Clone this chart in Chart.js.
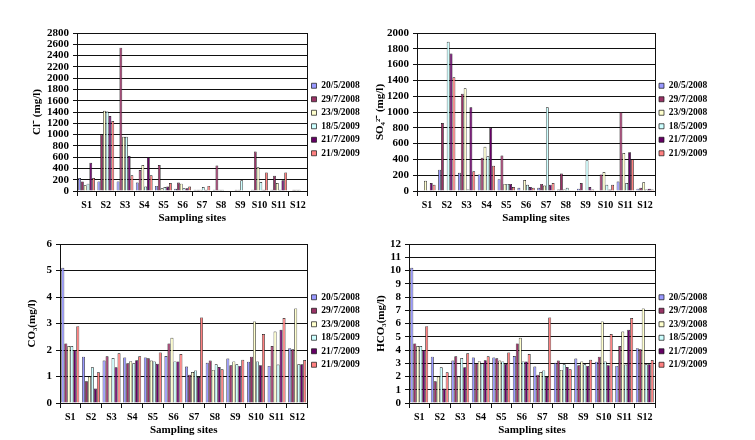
<!DOCTYPE html>
<html>
<head>
    <title>Sampling sites - Cl, SO4, CO3, HCO3</title>
    <script src="https://cdn.jsdelivr.net/npm/chart.js"></script>
    <style>
        body {
            margin: 0;
            background-color: #fff;
            width: 755px;
            height: 440px;
            position: relative;
            overflow: hidden;
        }
        canvas {
            position: absolute;
        }
        #clChart { left: 0; top: 0; }
        #so4Chart { left: 370px; top: 0; }
        #co3Chart { left: 0; top: 228px; }
        #hco3Chart { left: 370px; top: 228px; }
    </style>
</head>
<body>
    <canvas id="clChart" width="370" height="228"></canvas>
    <canvas id="so4Chart" width="385" height="228"></canvas>
    <canvas id="co3Chart" width="370" height="212"></canvas>
    <canvas id="hco3Chart" width="385" height="212"></canvas>

    <script>
        var sites = ['S1', 'S2', 'S3', 'S4', 'S5', 'S6', 'S7', 'S8', 'S9', 'S10', 'S11', 'S12'];
        var dates = ['20/5/2008', '29/7/2008', '23/9/2008', '18/5/2009', '21/7/2009', '21/9/2009'];
        var colors = ['#9999FF', '#993366', '#FFFFCC', '#CCFFFF', '#660066', '#FF8080'];

        // Cl- (mg/l), one row per sampling date
        var clValues = [
            [230, 170, 170, 150, 90, 40, 20, 20, 10, 20, 20, 10],
            [170, 1000, 2540, 370, 460, 150, 20, 450, 20, 700, 270, 20],
            [100, 1420, 960, 460, 50, 130, 20, 20, 20, 420, 140, 20],
            [130, 1410, 960, 80, 70, 50, 70, 20, 190, 160, 20, 20],
            [500, 1330, 620, 600, 80, 50, 20, 10, 10, 20, 190, 10],
            [230, 1240, 280, 280, 140, 80, 90, 10, 10, 330, 330, 10]
        ];

        // SO4 2- (mg/l)
        var so4Values = [
            [10, 270, 230, 210, 150, 40, 40, 20, 30, 10, 120, 30],
            [10, 860, 1230, 420, 450, 10, 90, 220, 100, 210, 1000, 40],
            [130, 10, 1300, 560, 90, 140, 70, 20, 10, 240, 480, 110],
            [10, 1890, 20, 440, 90, 80, 1060, 40, 390, 80, 100, 20],
            [100, 1740, 1060, 800, 90, 50, 80, 10, 50, 20, 490, 30],
            [80, 1440, 250, 320, 50, 40, 100, 10, 20, 80, 400, 20]
        ];

        // CO3 (mg/l)
        var co3Values = [
            [5.1, 1.75, 1.6, 1.72, 1.72, 1.77, 1.38, 1.52, 1.68, 1.56, 1.4, 2.07],
            [2.25, 0.82, 1.76, 1.5, 1.69, 2.25, 1.07, 1.6, 1.42, 1.75, 2.15, 2.03],
            [2.15, 1.0, 1.0, 1.58, 1.6, 2.46, 1.17, 1.25, 1.57, 3.08, 2.7, 3.57],
            [2.15, 1.35, 1.7, 1.5, 1.57, 1.57, 1.23, 1.46, 1.46, 1.57, 1.45, 1.46],
            [2.0, 0.55, 1.35, 1.61, 1.48, 1.57, 0.98, 1.36, 1.4, 1.42, 2.76, 1.46],
            [2.9, 1.16, 1.88, 1.76, 1.91, 1.85, 3.23, 1.27, 1.63, 2.6, 3.21, 1.62]
        ];

        // HCO3 (mg/l)
        var hco3Values = [
            [10.2, 3.5, 3.2, 3.44, 3.44, 3.54, 2.76, 3.04, 3.36, 3.12, 2.8, 4.14],
            [4.5, 1.64, 3.52, 3.0, 3.38, 4.5, 2.14, 3.2, 2.84, 3.5, 4.3, 4.06],
            [4.3, 2.0, 2.0, 3.16, 3.2, 4.92, 2.34, 2.5, 3.14, 6.16, 5.4, 7.14],
            [4.3, 2.7, 3.4, 3.0, 3.14, 3.14, 2.46, 2.92, 2.92, 3.14, 2.9, 2.92],
            [4.0, 1.1, 2.7, 3.22, 2.96, 3.14, 1.96, 2.72, 2.8, 2.84, 5.52, 2.92],
            [5.8, 2.32, 3.76, 3.52, 3.82, 3.7, 6.46, 2.54, 3.26, 5.2, 6.42, 3.24]
        ];

        var serif = 'Liberation Serif';
        var lineColor = '#111111';
        Chart.defaults.font.family = serif;
        Chart.defaults.color = '#000';

        function makeChart(id, values, yTitle, yMax, yStep, layout) {
            var datasets = values.map(function(row, i) {
                return {
                    label: dates[i],
                    data: row,
                    backgroundColor: colors[i],
                    borderColor: lineColor,
                    borderWidth: 0.7,
                    categoryPercentage: 0.87,
                    barPercentage: 1.0,
                    yAxisID: 'y'
                };
            });
            return new Chart(document.getElementById(id), {
                type: 'bar',
                data: { labels: sites, datasets: datasets },
                options: {
                    responsive: false,
                    animation: false,
                    layout: {
                        padding: { left: 0, top: layout.top, right: layout.right, bottom: 0 }
                    },
                    plugins: {
                        tooltip: { enabled: false },
                        legend: {
                            position: 'right',
                            fullSize: false,
                            // empty title only nudges the items down a little
                            title: { display: true, text: '', padding: { top: 1, bottom: 2 }, font: { size: 10 } },
                            labels: {
                                boxWidth: 5,
                                boxHeight: 5,
                                padding: 4,
                                color: '#000',
                                font: { family: serif, size: 9.5, weight: 'bold' }
                            }
                        }
                    },
                    scales: {
                        x: {
                            grid: {
                                display: true,
                                drawOnChartArea: false,
                                drawTicks: true,
                                tickLength: 5,
                                color: lineColor,
                                lineWidth: 1,
                                offset: true
                            },
                            border: { color: lineColor, width: 1 },
                            ticks: {
                                color: '#000',
                                padding: 3,
                                maxRotation: 0,
                                autoSkip: false,
                                font: { family: serif, size: 10, weight: 'bold' }
                            },
                            title: {
                                display: true,
                                text: 'Sampling sites',
                                color: '#000',
                                padding: { top: 0, bottom: 3 },
                                font: { family: serif, size: 11, weight: 'bold' }
                            },
                            afterFit: function(scale) { scale.height = 37; }
                        },
                        y: {
                            min: 0,
                            max: yMax,
                            ticks: {
                                stepSize: yStep,
                                autoSkip: false,
                                color: '#000',
                                padding: 4,
                                font: { family: serif, size: 11, weight: 'bold' },
                                callback: function(v) { return String(v); }
                            },
                            grid: { color: lineColor, lineWidth: 1, tickLength: 4 },
                            border: { color: lineColor, width: 1 },
                            title: {
                                display: true,
                                text: yTitle,
                                color: '#000',
                                padding: { top: layout.titlePad, bottom: 2 },
                                font: { family: serif, size: 11, weight: 'bold' }
                            },
                            afterFit: function(scale) { scale.width = layout.yWidth; }
                        },
                        // right-hand frame line of the plot area
                        yr: {
                            position: 'right',
                            min: 0,
                            max: 1,
                            ticks: { display: false },
                            grid: { display: false },
                            border: { color: lineColor, width: 1 },
                            afterFit: function(scale) { scale.width = 0; }
                        }
                    }
                }
            });
        }

        makeChart('clChart', clValues, 'Cl\u207B (mg/l)', 2800, 200,
            { top: 33, right: 1, yWidth: 77, titlePad: 31 });
        makeChart('so4Chart', so4Values, 'SO\u2084\u00B2\u207B (mg/l)', 2000, 200,
            { top: 33, right: 43, yWidth: 47, titlePad: 4 });
        makeChart('co3Chart', co3Values, 'CO\u2083(mg/l)', 6, 1,
            { top: 16, right: 1, yWidth: 60, titlePad: 26 });
        makeChart('hco3Chart', hco3Values, 'HCO\u2083(mg/l)', 12, 1,
            { top: 16, right: 43, yWidth: 39, titlePad: 5 });
    </script>
</body>
</html>
